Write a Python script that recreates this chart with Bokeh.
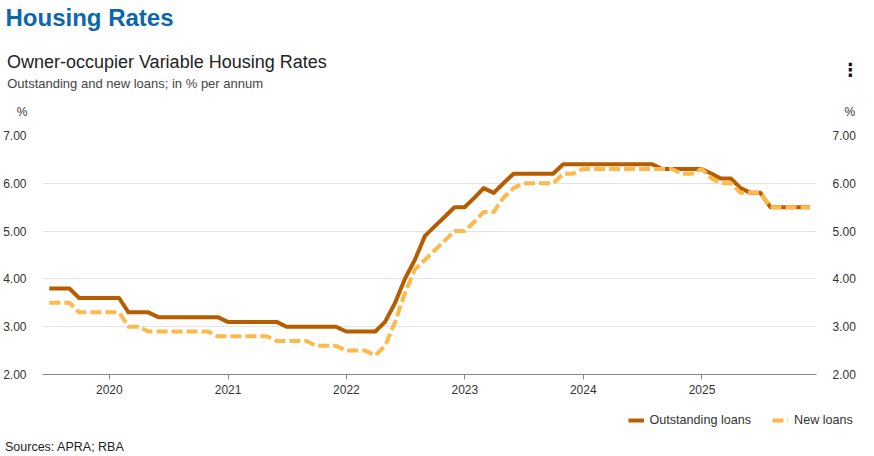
import pandas as pd
from datetime import datetime, timedelta
from bokeh.plotting import figure
from bokeh.layouts import column
from bokeh.models import (Range1d, LinearAxis, FixedTicker, NumeralTickFormatter,
                          DatetimeTickFormatter, Legend, LegendItem, Label, Plot)
from bokeh.embed import file_html
from bokeh.resources import INLINE

# ---------------- data ----------------
first_month = "2019-06-30"   # month-end observations, Jun 2019 .. Nov 2025
n_months = 78

outstanding_loans = [
    3.8, 3.8, 3.8, 3.6, 3.6, 3.6, 3.6, 3.6, 3.3, 3.3,
    3.3, 3.2, 3.2, 3.2, 3.2, 3.2, 3.2, 3.2, 3.1, 3.1,
    3.1, 3.1, 3.1, 3.1, 3.0, 3.0, 3.0, 3.0, 3.0, 3.0,
    2.9, 2.9, 2.9, 2.9, 3.1, 3.5, 4.0, 4.4, 4.9, 5.1,
    5.3, 5.5, 5.5, 5.7, 5.9, 5.8, 6.0, 6.2, 6.2, 6.2,
    6.2, 6.2, 6.4, 6.4, 6.4, 6.4, 6.4, 6.4, 6.4, 6.4,
    6.4, 6.4, 6.3, 6.3, 6.3, 6.3, 6.3, 6.2, 6.1, 6.1,
    5.9, 5.8, 5.8, 5.5, 5.5, 5.5, 5.5, 5.5,
]
new_loans = [
    3.5, 3.5, 3.5, 3.3, 3.3, 3.3, 3.3, 3.3, 3.0, 3.0,
    2.9, 2.9, 2.9, 2.9, 2.9, 2.9, 2.9, 2.8, 2.8, 2.8,
    2.8, 2.8, 2.8, 2.7, 2.7, 2.7, 2.7, 2.6, 2.6, 2.6,
    2.5, 2.5, 2.5, 2.4, 2.6, 3.1, 3.7, 4.2, 4.4, 4.6,
    4.8, 5.0, 5.0, 5.2, 5.4, 5.4, 5.7, 5.9, 6.0, 6.0,
    6.0, 6.0, 6.2, 6.2, 6.3, 6.3, 6.3, 6.3, 6.3, 6.3,
    6.3, 6.3, 6.3, 6.3, 6.2, 6.2, 6.3, 6.1, 6.0, 6.0,
    5.8, 5.8, 5.8, 5.5, 5.5, 5.5, 5.5, 5.5,
]
tick_years = [2020, 2021, 2022, 2023, 2024, 2025]
y_ticks = [2, 3, 4, 5, 6, 7]
series_names = ["Outstanding loans", "New loans"]
unit_label = "%"
title_text = "Housing Rates"
subtitle_text = "Owner-occupier Variable Housing Rates"
note_text = "Outstanding and new loans; in % per annum"
source_text = "Sources: APRA; RBA"
menu_icon = "⋮"

dates = pd.date_range(first_month, periods=n_months, freq="ME")

# ---------------- styling / layout ----------------
FONT = "Liberation Sans"
C_OUT = "#b85c00"
C_NEW = "#ffb84a"
TXT = "#333333"
W = 858
H_HEAD, H_MAIN, H_FOOT = 122, 288, 46
NO_ALIGN = {"frame_align": False} if "frame_align" in Plot.properties() else {}

def blank_fig(h):
    f = figure(frame_width=W, frame_height=h, x_range=Range1d(0, W), y_range=Range1d(h, 0),
               x_axis_type=None, y_axis_type=None, toolbar_location=None,
               output_backend="svg", min_border=0, background_fill_color="white",
               border_fill_color="white", **NO_ALIGN)
    f.outline_line_color = None
    f.xgrid.visible = False
    f.ygrid.visible = False
    return f

def lab(f, text, x, y, size, color, style="normal", align="left", font=FONT):
    f.add_layout(Label(x=x, y=y, text=text, text_font=font, text_font_size=size,
                       text_color=color, text_font_style=style,
                       text_align=align, text_baseline="middle"))

# ---- header ----
ph = blank_fig(H_HEAD)
lab(ph, title_text, 5, 16.7, "24px", "#0b66ae", style="bold")
lab(ph, subtitle_text, 6.4, 61.5, "18px", "#222222")
lab(ph, note_text, 6.7, 83.2, "13px", "#444444")
lab(ph, unit_label, 21.5, 111.7, "12px", TXT, align="center")
lab(ph, unit_label, 849.3, 111.7, "12px", TXT, align="center")
lab(ph, menu_icon, 850, 68.5, "18px", "#111111", style="bold", align="center",
    font="DejaVu Sans")

# ---- main chart ----
x0 = datetime(2020, 1, 1) - timedelta(days=206)
x1 = datetime(2020, 1, 1) + timedelta(days=2180)

p = figure(width=W, height=H_MAIN, x_axis_type="datetime", output_backend="svg",
           toolbar_location=None, title=None,
           x_range=Range1d(x0, x1), y_range=Range1d(2, 7),
           min_border_left=34, min_border_right=38, min_border_top=13,
           min_border_bottom=36, background_fill_color="white",
           border_fill_color="white", **NO_ALIGN)
p.outline_line_color = None

r_out = p.line(dates, outstanding_loans, line_width=4, color=C_OUT,
               line_join="round")
r_new = p.line(dates, new_loans, line_width=4, color=C_NEW,
               line_dash="11 4", line_join="round")

xa = p.xaxis[0]
xa.ticker = FixedTicker(ticks=[pd.Timestamp(f"{y}-01-01").value / 1e6 for y in tick_years])
xa.formatter = DatetimeTickFormatter(years="%Y", months="%Y", days="%Y",
                                     hours="%Y", minutes="%Y")
xa.axis_line_color = "#888888"
xa.major_tick_line_color = "#888888"
xa.major_tick_out = 5
xa.major_tick_in = 0
xa.minor_tick_line_color = None
xa.major_label_standoff = 5
xa.major_label_text_font = FONT
xa.major_label_text_font_size = "12px"
xa.major_label_text_color = TXT

ya = p.yaxis[0]
ya_r = LinearAxis()
p.add_layout(ya_r, "right")
for ax in (ya, ya_r):
    ax.ticker = FixedTicker(ticks=y_ticks)
    ax.formatter = NumeralTickFormatter(format="0.00")
    ax.axis_line_color = None
    ax.major_tick_line_color = None
    ax.minor_tick_line_color = None
    ax.major_label_standoff = 10
    ax.major_label_text_font = FONT
    ax.major_label_text_font_size = "12px"
    ax.major_label_text_color = TXT

p.xgrid.grid_line_color = None
p.ygrid.grid_line_color = "#e3e3e3"
p.ygrid.ticker = FixedTicker(ticks=y_ticks)

# ---- footer: legend + sources ----
# the legend's renderers carry the same series (they lie outside this strip's
# pixel range, so only their legend swatches are visible)
pf = blank_fig(H_FOOT)
k_out = pf.line(dates, outstanding_loans, line_width=4, color=C_OUT)
k_new = pf.line(dates, new_loans, line_width=4, color=C_NEW, line_dash="11 4")
legend = Legend(items=[LegendItem(label=series_names[0], renderers=[k_out]),
                       LegendItem(label=series_names[1], renderers=[k_new])],
                orientation="horizontal", location=(627.5, 29),
                glyph_width=16, glyph_height=14, label_height=14,
                label_standoff=6, spacing=21, padding=0, margin=0,
                border_line_color=None, background_fill_alpha=0,
                label_text_font=FONT, label_text_font_size="12.6px",
                label_text_color=TXT)
pf.add_layout(legend)
lab(pf, source_text, 4.5, 36.2, "12.5px", "#222222")

layout = column(ph, p, pf, spacing=0)
open("out.html", "w").write(file_html(layout, INLINE))
